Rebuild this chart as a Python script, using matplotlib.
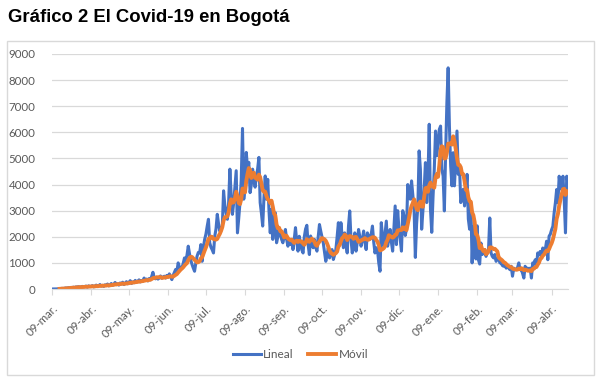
import pandas as pd
import matplotlib
matplotlib.use('Agg')
import matplotlib.pyplot as plt
from matplotlib.patches import Rectangle

# casos diarios en Bogotá, desde el 09-mar-2020 (un valor por día)
fecha_inicio = '2020-03-09'
lineal = [
    0, 1, 3, 5, 4, 10, 12, 20, 25, 18,
    30, 40, 35, 50, 45, 60, 55, 70, 50, 80,
    65, 90, 75, 60, 100, 80, 95, 110, 70, 120,
    90, 100, 130, 80, 110, 150, 95, 120, 170, 110,
    140, 100, 160, 130, 190, 120, 150, 210, 140, 180,
    250, 170, 200, 150, 230, 190, 260, 170, 220, 280,
    200, 250, 320, 210, 270, 240, 330, 260, 300, 350,
    270, 320, 300, 420, 330, 380, 310, 400, 350, 480,
    640, 430, 390, 450, 380, 420, 500, 410, 460, 490,
    420, 520, 450, 580, 480, 360, 520, 640, 750, 680,
    1000, 850, 760, 810, 980, 1190, 1050, 1300, 1640, 1350,
    1100, 940, 800, 680, 1000, 1260, 1400, 1380, 1700, 1060,
    1600, 1900, 2100, 2400, 2670, 1770, 1600, 1500, 1380, 2020,
    2300, 2860, 2500, 2220, 2300, 2410, 3760, 3200, 2920, 2670,
    3300, 4590, 3600, 2860, 3300, 3900, 4530, 2150, 2700, 3310,
    4200, 6150, 3440, 3950, 5230, 4600, 4850, 3690, 4000, 4590,
    4200, 3900, 4330, 4600, 5040, 3310, 2900, 2410, 3500, 4330,
    3440, 4200, 3000, 2150, 3050, 1900, 2500, 2920, 1770, 2000,
    2280, 2100, 1900, 1770, 2000, 2280, 1900, 1640, 1800, 1700,
    1900, 1510, 1900, 2350, 1800, 1450, 2020, 1700, 1500, 1380,
    2000, 2300, 2440, 1700, 1320, 2030, 1700, 1580, 1900, 1600,
    1450, 2000, 2470, 2220, 2000, 1770, 1400, 1060, 1300, 1580,
    1190, 1400, 1510, 1130, 1300, 1510, 2000, 2540, 1770, 2540,
    2000, 1580, 2150, 1700, 1380, 2400, 2990, 1900, 1380, 1700,
    2150, 1450, 1800, 2280, 2000, 1640, 1900, 2220, 1800, 1510,
    2150, 2000, 1900, 2100, 2410, 1800, 1380, 1580, 1500, 1000,
    680, 2540, 2000, 1640, 2100, 2600, 1640, 1900, 2280, 1800,
    1450, 2300, 3180, 1700, 3000, 2300, 1900, 1450, 3000, 2800,
    2050, 2300, 4000, 3500, 3440, 4140, 3600, 3060, 1210, 2500,
    3180, 5290, 4590, 2290, 3000, 3820, 4840, 3310, 4200, 6310,
    3060, 2170, 3500, 4590, 6050, 5100, 5600, 6110, 6240, 4590,
    4330, 2990, 5220, 7130, 8470, 6240, 4710, 3950, 5220, 3950,
    5000, 6050, 4390, 4710, 3310, 3500, 3820, 3180, 3700, 4390,
    2680, 2290, 3300, 1000, 2400, 1910, 1150, 2420, 1120, 955,
    1760, 1320, 1400, 1510, 1250, 1400, 1510, 2720, 1380, 1250,
    1190, 1320, 1060, 1150, 1190, 1000, 1000, 900, 870, 930,
    800, 850, 800, 740, 870, 490, 800, 740, 740, 820,
    1000, 740, 740, 600, 420, 870, 740, 800, 740, 800,
    420, 1000, 950, 1120, 870, 1380, 1300, 1440, 1250, 1570,
    1400, 1510, 1830, 1120, 2020, 2100, 2270, 2400, 2910, 3300,
    3810, 3300, 4320, 3900, 3810, 4320, 3420, 2150, 4320, 4060,
]
ventana = 7  # media móvil de 7 días
meses = ['09-mar.', '09-abr.', '09-may.', '09-jun.', '09-jul.', '09-ago.', '09-sep.',
         '09-oct.', '09-nov.', '09-dic.', '09-ene.', '09-feb.', '09-mar.', '09-abr.']
y_ticks = [0, 1000, 2000, 3000, 4000, 5000, 6000, 7000, 8000, 9000]

fechas = pd.date_range(fecha_inicio, periods=len(lineal), freq='D')
serie = pd.Series(lineal, index=fechas)
movil = serie.rolling(ventana).mean()
pos_meses = pd.date_range('2020-03-01', periods=len(meses), freq='MS') + pd.Timedelta(days=8)

fig = plt.figure(figsize=(6.01, 3.85), dpi=100)
W, H = 601, 385

# marco del gráfico
fig.patches.append(Rectangle((7 / W, 1 - 375 / H), 587 / W, 334 / H,
                             transform=fig.transFigure, fill=False,
                             edgecolor='#D9D9D9', lw=1))
fig.text(8 / W, 1 - 17 / H, 'Gráfico 2 El Covid-19 en Bogotá', fontsize=13.3,
         fontweight='bold', family='Liberation Sans', va='center', ha='left')

ax = fig.add_axes([52 / W, 1 - 289 / H, 516 / W, 235 / H])
ax.plot(fechas, serie.values, color='#4472C4', lw=2.2, label='Lineal')
ax.plot(fechas, movil.values, color='#ED7D31', lw=2.8, label='Móvil')

ax.set_xlim(fechas[0], fechas[-1])
ax.set_ylim(0, 9000)
ax.set_yticks(y_ticks)
ax.set_yticklabels([str(v) for v in y_ticks])
ax.set_xticks(pos_meses)
ax.set_xticklabels(meses, rotation=45, ha='right', rotation_mode='anchor')

ax.grid(axis='y', color='#D9D9D9', lw=0.9)
ax.set_axisbelow(True)
for pos in ['top', 'right', 'left']:
    ax.spines[pos].set_visible(False)
ax.spines['bottom'].set_color('#D9D9D9')
ax.tick_params(axis='y', length=0, pad=12, labelsize=8.3, labelcolor='#595959')
ax.tick_params(axis='x', length=4, color='#D9D9D9', pad=6, labelsize=8.3,
               labelcolor='#595959')
for lab in ax.get_xticklabels() + ax.get_yticklabels():
    lab.set_family('Lato')

leg = fig.legend(loc='center', bbox_to_anchor=(0.5, 1 - 355 / H), ncol=2,
                 frameon=False, handlelength=2.4, columnspacing=1.2,
                 handletextpad=0.2, prop={'family': 'Lato', 'size': 8.5})
for t in leg.get_texts():
    t.set_color('#595959')

plt.savefig('out.png', dpi=100)
